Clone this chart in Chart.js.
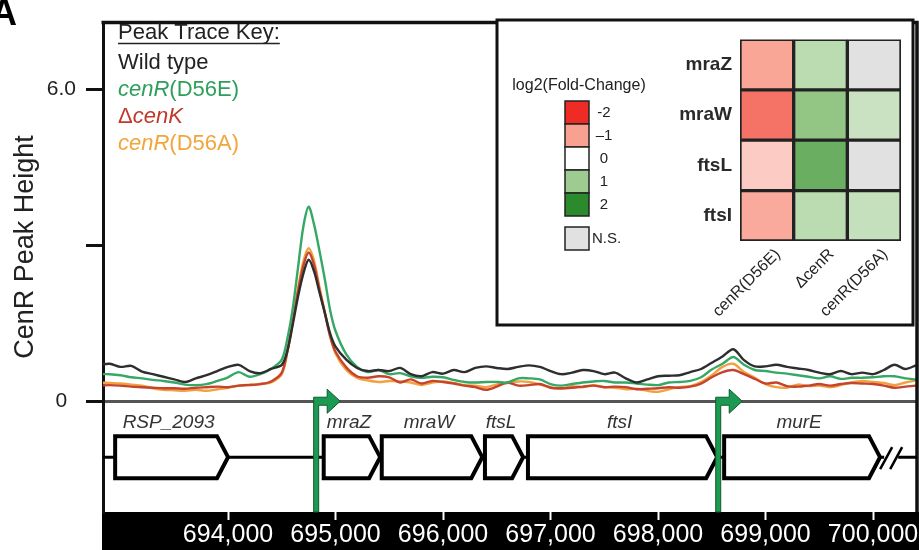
<!DOCTYPE html>
<html>
<head>
<meta charset="utf-8">
<title>CenR peak traces</title>
<script src="https://cdn.jsdelivr.net/npm/chart.js@4.4.1/dist/chart.umd.min.js"></script>
<style>
  html, body { margin: 0; padding: 0; background: #fff; overflow: hidden; }
  #wrap { position: relative; width: 919px; height: 550px; }
  #traces { position: absolute; left: 0; top: 0; }
  #heat { position: absolute; left: 497px; top: 20px; }
</style>
</head>
<body>
<div id="wrap">
  <canvas id="traces" width="919" height="550"></canvas>
  <canvas id="heat" width="416" height="305"></canvas>
</div>
<script>
// ChIP-seq peak traces (bp position -> CenR peak height)
const positions = [
  692800, 692900, 693000, 693100, 693200, 693300, 693400, 693500, 693600, 693700,
  693800, 693900, 694000, 694100, 694200, 694300, 694400, 694500, 694550, 694600,
  694650, 694700, 694750, 694800, 694850, 694900, 694950, 695000, 695100, 695200,
  695300, 695400, 695500, 695600, 695700, 695800, 695900, 696000, 696100, 696200,
  696300, 696400, 696500, 696600, 696700, 696800, 696900, 697000, 697100, 697200,
  697300, 697400, 697500, 697600, 697700, 697800, 697900, 698000, 698100, 698200,
  698300, 698400, 698500, 698600, 698700, 698800, 698900, 699000, 699100, 699200,
  699300, 699400, 699500, 699600, 699700, 699800, 699900, 700000, 700100, 700200,
  700300, 700400
];

const wildType = [
  0.70, 0.72, 0.66, 0.68, 0.57, 0.52, 0.47, 0.42, 0.37, 0.44,
  0.50, 0.58, 0.66, 0.70, 0.58, 0.54, 0.62, 0.70, 0.95, 1.45,
  2.00, 2.45, 2.72, 2.50, 2.10, 1.70, 1.30, 1.05, 0.80, 0.64,
  0.58, 0.60, 0.58, 0.64, 0.52, 0.48, 0.56, 0.53, 0.60, 0.56,
  0.64, 0.67, 0.64, 0.62, 0.66, 0.69, 0.66, 0.58, 0.52, 0.55,
  0.60, 0.58, 0.52, 0.55, 0.44, 0.36, 0.42, 0.48, 0.49, 0.50,
  0.56, 0.62, 0.74, 0.86, 1.00, 0.79, 0.67, 0.67, 0.70, 0.66,
  0.63, 0.60, 0.55, 0.52, 0.58, 0.52, 0.55, 0.52, 0.60, 0.70,
  0.62, 0.69
];

const cenR_D56E = [
  0.52, 0.52, 0.50, 0.46, 0.44, 0.41, 0.39, 0.36, 0.32, 0.31,
  0.33, 0.39, 0.46, 0.56, 0.47, 0.52, 0.62, 0.80, 1.18, 1.75,
  2.55, 3.35, 3.74, 3.40, 2.90, 2.35, 1.75, 1.35, 0.90, 0.66,
  0.56, 0.60, 0.52, 0.54, 0.48, 0.45, 0.47, 0.46, 0.41, 0.37,
  0.36, 0.37, 0.37, 0.36, 0.44, 0.44, 0.42, 0.33, 0.30, 0.33,
  0.36, 0.38, 0.39, 0.36, 0.36, 0.34, 0.32, 0.31, 0.36, 0.37,
  0.39, 0.46, 0.61, 0.72, 0.85, 0.70, 0.60, 0.58, 0.55, 0.53,
  0.50, 0.47, 0.44, 0.48, 0.43, 0.45, 0.45, 0.46, 0.48, 0.48,
  0.44, 0.42
];

const deltaCenK = [
  0.30, 0.31, 0.30, 0.28, 0.27, 0.26, 0.25, 0.25, 0.24, 0.26,
  0.27, 0.28, 0.27, 0.30, 0.31, 0.33, 0.38, 0.55, 0.95, 1.50,
  2.10, 2.60, 2.86, 2.62, 2.15, 1.70, 1.25, 0.95, 0.65, 0.48,
  0.45, 0.48, 0.46, 0.36, 0.42, 0.34, 0.39, 0.37, 0.34, 0.30,
  0.27, 0.22, 0.28, 0.36, 0.30, 0.31, 0.33, 0.26, 0.25, 0.26,
  0.28, 0.30, 0.27, 0.28, 0.27, 0.23, 0.24, 0.25, 0.27, 0.26,
  0.28, 0.34, 0.46, 0.56, 0.60, 0.52, 0.43, 0.34, 0.36, 0.29,
  0.28, 0.30, 0.33, 0.30, 0.33, 0.35, 0.34, 0.33, 0.30, 0.26,
  0.28, 0.30
];

const cenR_D56A = [
  0.36, 0.35, 0.34, 0.32, 0.30, 0.25, 0.22, 0.21, 0.20, 0.22,
  0.20, 0.23, 0.26, 0.30, 0.32, 0.33, 0.36, 0.52, 0.92, 1.50,
  2.15, 2.68, 2.94, 2.70, 2.20, 1.72, 1.25, 0.92, 0.60, 0.45,
  0.40, 0.37, 0.39, 0.38, 0.36, 0.31, 0.36, 0.38, 0.35, 0.31,
  0.30, 0.27, 0.32, 0.35, 0.38, 0.37, 0.32, 0.27, 0.24, 0.29,
  0.27, 0.31, 0.27, 0.26, 0.23, 0.24, 0.20, 0.18, 0.23, 0.27,
  0.29, 0.37, 0.50, 0.66, 0.72, 0.56, 0.45, 0.33, 0.27, 0.26,
  0.32, 0.29, 0.30, 0.27, 0.31, 0.36, 0.39, 0.37, 0.35, 0.31,
  0.36, 0.40
];

const xTicks = [694000, 695000, 696000, 697000, 698000, 699000, 700000];
const yTicks = [0, 3, 6];
const yTickLabels = ['0', '', '6.0'];

// gene annotation (bp)
const geneNames = ['RSP_2093', 'mraZ', 'mraW', 'ftsL', 'ftsI', 'murE'];
const geneStarts = [692950, 694890, 695430, 696390, 696790, 698615];
const geneEnds = [694000, 695415, 696365, 696745, 698550, 700065];
const promoters = [694820, 698560];
const breakPos = 700150;

// expression heatmap, log2 fold-change (null = not significant)
const heatRows = ['mraZ', 'mraW', 'ftsL', 'ftsI'];
const heatCols = ['cenR(D56E)', '\u0394cenR', 'cenR(D56A)'];
const foldD56E = [-0.95, -1.4, -0.55, -0.9];
const foldDeltaCenR = [0.7, 1.1, 1.45, 0.7];
const foldD56A = [null, 0.55, null, 0.6];

const legendSteps = [-2, -1, 0, 1, 2];
const legendLabels = ['-2', '\u20131', '0', '1', '2'];
const legendColors = ['#ee2b25', '#f9a191', '#ffffff', '#9ecb8f', '#2b8a2b'];
const nsColor = '#e1e1e1';

const FONT = "'Liberation Sans', Arial, Helvetica, sans-serif";
Chart.defaults.font.family = FONT;

function toPoints(vals) {
  return vals.map((v, i) => ({ x: positions[i], y: v }));
}

function hexRgb(h) {
  return [1, 3, 5].map(i => parseInt(h.slice(i, i + 2), 16));
}

// interpolate the legend colour ramp
function foldColor(v) {
  if (v === null) return nsColor;
  const t = Math.max(-2, Math.min(2, v)) + 2;
  const i = Math.min(3, Math.floor(t));
  const f = t - i;
  const a = hexRgb(legendColors[i]), b = hexRgb(legendColors[i + 1]);
  const c = a.map((x, k) => Math.round(x + (b[k] - x) * f));
  return 'rgb(' + c.join(',') + ')';
}

function drawParts(ctx, parts, x, y, size, color) {
  ctx.fillStyle = color;
  parts.forEach(([txt, ital]) => {
    ctx.font = (ital ? 'italic ' : '') + size + 'px ' + FONT;
    ctx.fillText(txt, x, y);
    x += ctx.measureText(txt).width;
  });
}

const decor = {
  id: 'decor',
  beforeDraw(chart) {
    const { ctx, chartArea: a } = chart;
    ctx.save();
    ctx.fillStyle = '#fff';
    ctx.fillRect(0, 0, chart.width, chart.height);
    ctx.fillStyle = '#000';
    ctx.fillRect(a.left - 1, a.bottom, chart.width - a.left + 1, chart.height - a.bottom);
    ctx.restore();
  },
  afterDraw(chart) {
    const { ctx, chartArea: a, scales: { x, y } } = chart;
    ctx.save();

    // frame
    ctx.strokeStyle = '#111';
    ctx.lineWidth = 3.5;
    ctx.beginPath();
    ctx.moveTo(a.left - 1.5, a.top);
    ctx.lineTo(a.right, a.top);
    ctx.lineTo(a.right, a.bottom);
    ctx.stroke();

    // gene track
    const midY = y.getPixelForValue(-1.075);
    const half = 21;
    const bx = x.getPixelForValue(breakPos);
    ctx.strokeStyle = '#000';
    ctx.lineWidth = 3;
    ctx.beginPath();
    ctx.moveTo(a.left, midY); ctx.lineTo(bx - 5, midY);
    ctx.moveTo(bx + 9, midY); ctx.lineTo(a.right, midY);
    ctx.stroke();
    ctx.lineWidth = 2.5;
    ctx.beginPath();
    ctx.moveTo(bx - 9, midY + 12); ctx.lineTo(bx + 3, midY - 10);
    ctx.moveTo(bx + 1, midY + 12); ctx.lineTo(bx + 13, midY - 10);
    ctx.stroke();

    geneNames.forEach((name, i) => {
      const x0 = x.getPixelForValue(geneStarts[i]);
      const x1 = x.getPixelForValue(geneEnds[i]);
      ctx.beginPath();
      ctx.moveTo(x0, midY - half);
      ctx.lineTo(x1 - 11, midY - half);
      ctx.lineTo(x1, midY);
      ctx.lineTo(x1 - 11, midY + half);
      ctx.lineTo(x0, midY + half);
      ctx.closePath();
      ctx.fillStyle = '#fff';
      ctx.fill();
      ctx.lineWidth = 4;
      ctx.lineJoin = 'miter';
      ctx.strokeStyle = '#000';
      ctx.stroke();
      ctx.font = 'italic 19px ' + FONT;
      ctx.fillStyle = '#333';
      ctx.textAlign = 'center';
      ctx.textBaseline = 'alphabetic';
      ctx.fillText(name, (x0 + x1) / 2 - 3, midY - half - 8);
    });

    // promoter arrows
    const zy = y.getPixelForValue(0);
    promoters.forEach(p => {
      const px = x.getPixelForValue(p);
      ctx.beginPath();
      ctx.moveTo(px - 2.5, a.bottom);
      ctx.lineTo(px - 2.5, zy - 4);
      ctx.lineTo(px + 11, zy - 4);
      ctx.lineTo(px + 11, zy - 12);
      ctx.lineTo(px + 24, zy);
      ctx.lineTo(px + 11, zy + 12);
      ctx.lineTo(px + 11, zy + 4);
      ctx.lineTo(px + 2.5, zy + 4);
      ctx.lineTo(px + 2.5, a.bottom);
      ctx.closePath();
      ctx.fillStyle = '#1d9a52';
      ctx.fill();
      ctx.strokeStyle = '#0e5a2d';
      ctx.lineWidth = 1;
      ctx.stroke();
    });

    // y axis title
    ctx.save();
    ctx.translate(33, 247);
    ctx.rotate(-Math.PI / 2);
    ctx.font = '27px ' + FONT;
    ctx.fillStyle = '#222';
    ctx.textAlign = 'center';
    ctx.textBaseline = 'alphabetic';
    ctx.fillText('CenR Peak Height', 0, 0);
    ctx.restore();

    // panel letter
    ctx.font = 'bold 36px ' + FONT;
    ctx.fillStyle = '#000';
    ctx.textAlign = 'left';
    ctx.textBaseline = 'alphabetic';
    ctx.fillText('A', -9, 25);

    // trace key
    ctx.font = '22px ' + FONT;
    ctx.fillStyle = '#222';
    ctx.fillText('Peak Trace Key:', 118, 39);
    const kw = ctx.measureText('Peak Trace Key:').width;
    ctx.strokeStyle = '#222';
    ctx.lineWidth = 1.5;
    ctx.beginPath();
    ctx.moveTo(118, 43.5); ctx.lineTo(118 + kw, 43.5);
    ctx.stroke();
    drawParts(ctx, [['Wild type', false]], 118, 69, 22, '#222');
    drawParts(ctx, [['cenR', true], ['(D56E)', false]], 118, 96, 22, '#2f9e5b');
    drawParts(ctx, [['\u0394', false], ['cenK', true]], 118, 123, 22, '#c0392b');
    drawParts(ctx, [['cenR', true], ['(D56A)', false]], 118, 150, 22, '#f2a53a');

    // heatmap inset box + colour legend
    ctx.fillStyle = '#fff';
    ctx.fillRect(497, 20, 416, 305);
    ctx.strokeStyle = '#111';
    ctx.lineWidth = 3;
    ctx.strokeRect(497, 20, 416, 305);

    ctx.font = '16px ' + FONT;
    ctx.fillStyle = '#222';
    ctx.textAlign = 'center';
    ctx.fillText('log2(Fold-Change)', 579, 90);
    ctx.font = '15px ' + FONT;
    ctx.lineWidth = 1.5;
    ctx.textBaseline = 'middle';
    legendSteps.forEach((s, i) => {
      const top = 101 + i * 23;
      ctx.fillStyle = legendColors[i];
      ctx.fillRect(565, top, 24, 23);
      ctx.strokeStyle = '#222';
      ctx.strokeRect(565, top, 24, 23);
      ctx.fillStyle = '#222';
      ctx.fillText(legendLabels[i], 604, top + 12);
    });
    ctx.fillStyle = nsColor;
    ctx.fillRect(565, 227, 24, 23);
    ctx.strokeRect(565, 227, 24, 23);
    ctx.fillStyle = '#222';
    ctx.textAlign = 'left';
    ctx.fillText('N.S.', 592, 239);

    ctx.restore();
  }
};

new Chart(document.getElementById('traces'), {
  type: 'line',
  data: {
    datasets: [
      { label: 'Wild type', data: toPoints(wildType), borderColor: '#2e2e2e' },
      { label: 'cenR(D56E)', data: toPoints(cenR_D56E), borderColor: '#35a865' },
      { label: '\u0394cenK', data: toPoints(deltaCenK), borderColor: '#c4452b' },
      { label: 'cenR(D56A)', data: toPoints(cenR_D56A), borderColor: '#f3a040' }
    ]
  },
  options: {
    responsive: false,
    animation: false,
    layout: { padding: { top: 13, right: 2, left: 0, bottom: 0 } },
    elements: {
      point: { radius: 0 },
      line: { borderWidth: 2.4, tension: 0.3 }
    },
    plugins: { legend: { display: false }, tooltip: { enabled: false } },
    scales: {
      x: {
        type: 'linear',
        min: 692837,
        max: 700409,
        afterBuildTicks(s) { s.ticks = xTicks.map(v => ({ value: v })); },
        afterFit(s) { s.height = 38; },
        grid: { drawOnChartArea: false, drawTicks: true, tickLength: 8, color: '#fff', tickColor: '#fff', tickWidth: 2 },
        border: { display: false },
        ticks: {
          color: '#fff', font: { size: 25 }, padding: 0, maxRotation: 0, autoSkip: false,
          callback: v => v.toLocaleString('en-US')
        }
      },
      y: {
        min: -2.13,
        max: 7.28,
        afterBuildTicks(s) { s.ticks = yTicks.map(v => ({ value: v })); },
        afterFit(s) { s.width = 103; },
        grid: {
          color: c => (c.tick && c.tick.value === 0 ? '#555' : 'rgba(0,0,0,0)'),
          lineWidth: 3, tickColor: '#111', tickWidth: 3, tickLength: 17
        },
        border: { display: true, color: '#111', width: 3 },
        ticks: {
          color: '#222', font: { size: 21 }, padding: 10, crossAlign: 'center',
          callback: (v, i) => yTickLabels[i]
        }
      }
    }
  },
  plugins: [decor]
});

const foldByCol = [foldD56E, foldDeltaCenR, foldD56A];

new Chart(document.getElementById('heat'), {
  type: 'bar',
  data: {
    labels: heatCols,
    datasets: heatRows.map((row, r) => ({
      label: row,
      data: heatCols.map(() => 1),
      backgroundColor: foldByCol.map(col => foldColor(col[r])),
      borderColor: '#222',
      borderWidth: 2,
      borderSkipped: false,
      barPercentage: 1,
      categoryPercentage: 1
    }))
  },
  options: {
    responsive: false,
    animation: false,
    layout: { padding: { top: 8, right: 12, left: 0, bottom: 0 } },
    plugins: { legend: { display: false }, tooltip: { enabled: false } },
    scales: {
      x: {
        stacked: true,
        grid: { display: false, drawTicks: false },
        border: { display: false },
        afterFit(s) { s.height = 84; },
        ticks: {
          color: '#222', font: { size: 16 }, minRotation: 45, maxRotation: 45,
          padding: 4, labelOffset: 11, autoSkip: false
        }
      },
      y: {
        stacked: true,
        min: 0,
        max: 4,
        reverse: true,
        grid: { display: false, drawTicks: false },
        border: { display: false },
        afterBuildTicks(s) { s.ticks = heatRows.map((r, i) => ({ value: i + 0.5 })); },
        afterFit(s) { s.width = 243; },
        ticks: { color: '#2a2a2a', font: { size: 19, weight: 'bold' }, padding: 8, callback: (v, i) => heatRows[i] }
      }
    }
  }
});
</script>
</body>
</html>
